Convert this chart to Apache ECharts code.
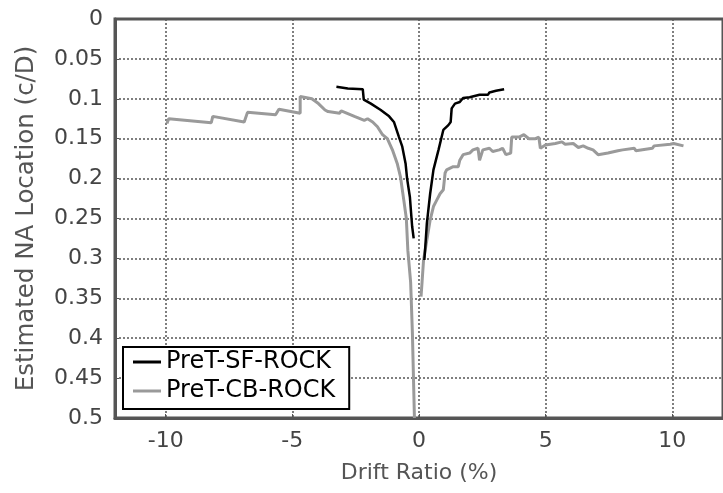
<!DOCTYPE html>
<html>
<head>
<meta charset="utf-8">
<script src="https://cdn.jsdelivr.net/npm/echarts@6/dist/echarts.min.js"></script>
<style>
  html, body { margin: 0; padding: 0; background: #fff; }
  #chart { width: 723px; height: 493px; }
</style>
</head>
<body>
<div id="chart"></div>
<script>
// drift ratio (%) vs estimated NA location (c/D)
var sfDrift = [-3.26, -2.81, -2.22, -2.18, -1.90, -1.51, -1.18, -0.99, -0.79, -0.66, -0.53, -0.47, -0.36, -0.31, -0.27, -0.21];
var sfDepth = [0.085, 0.087, 0.088, 0.101, 0.106, 0.114, 0.122, 0.129, 0.148, 0.160, 0.181, 0.200, 0.223, 0.244, 0.260, 0.275];
var sfDriftPos = [0.21, 0.25, 0.31, 0.44, 0.57, 0.77, 0.96, 1.16, 1.25, 1.29, 1.42, 1.61, 1.74, 2.00, 2.39, 2.72, 2.78, 3.04, 3.36];
var sfDepthPos = [0.302, 0.285, 0.256, 0.219, 0.189, 0.164, 0.139, 0.133, 0.129, 0.112, 0.106, 0.104, 0.099, 0.098, 0.095, 0.095, 0.092, 0.090, 0.088];

var cbDrift = [-9.95, -9.88, -8.20, -8.14, -6.90, -6.77, -5.66, -5.53, -4.69, -4.69, -4.23, -3.97, -3.71, -3.59, -3.13, -3.07, -2.55, -2.16, -2.03, -1.83, -1.64, -1.44, -1.25, -1.05, -0.86, -0.73, -0.60, -0.50, -0.44, -0.33, -0.26, -0.18];
var cbDepth = [0.131, 0.125, 0.130, 0.122, 0.129, 0.117, 0.120, 0.113, 0.118, 0.097, 0.100, 0.106, 0.114, 0.116, 0.118, 0.115, 0.122, 0.127, 0.125, 0.129, 0.135, 0.145, 0.150, 0.164, 0.181, 0.198, 0.227, 0.250, 0.290, 0.330, 0.394, 0.500];
var cbDriftPos = [0.08, 0.12, 0.18, 0.31, 0.44, 0.57, 0.70, 0.83, 0.96, 1.03, 1.09, 1.35, 1.55, 1.61, 1.74, 2.00, 2.13, 2.33, 2.39, 2.52, 2.78, 2.91, 3.17, 3.30, 3.43, 3.62, 3.66, 3.95, 4.14, 4.34, 4.60, 4.73, 4.79, 4.99, 5.38, 5.64, 5.77, 6.09, 6.29, 6.48, 6.68, 6.87, 7.07, 7.46, 7.85, 8.04, 8.50, 8.56, 9.21, 9.28, 9.92, 10.05, 10.44];
var cbDepthPos = [0.348, 0.330, 0.302, 0.277, 0.252, 0.235, 0.227, 0.219, 0.214, 0.193, 0.189, 0.185, 0.185, 0.177, 0.170, 0.168, 0.164, 0.162, 0.177, 0.164, 0.162, 0.166, 0.164, 0.162, 0.170, 0.168, 0.148, 0.148, 0.145, 0.150, 0.150, 0.148, 0.162, 0.158, 0.156, 0.154, 0.157, 0.156, 0.161, 0.159, 0.162, 0.164, 0.170, 0.168, 0.165, 0.164, 0.162, 0.165, 0.162, 0.159, 0.157, 0.156, 0.159];

var xTicks = [-10, -5, 0, 5, 10];
var seriesNames = ['PreT-SF-ROCK', 'PreT-CB-ROCK'];

var pairs = function(xs, ys) {
  var out = [];
  for (var i = 0; i < xs.length; i++) {
    out.push([xs[i], ys[i]]);
  }
  return out;
};

var chart = echarts.init(document.getElementById('chart'));
var font = 'DejaVu Sans';
var axisGray = '#555';

var lineSeries = function(name, data, color, width) {
  return {
    name: name,
    type: 'line',
    data: data,
    symbol: 'none',
    showSymbol: false,
    animation: false,
    lineStyle: { color: color, width: width },
    itemStyle: { color: color },
    z: name === seriesNames[0] ? 3 : 2
  };
};

var option = {
  animation: false,
  grid: {
    left: 115, top: 19, width: 616, height: 399,
    show: true, borderColor: axisGray, borderWidth: 3,
    containLabel: false
  },
  legend: {
    left: 123, top: 347,
    orient: 'vertical',
    data: seriesNames,
    icon: 'rect',
    backgroundColor: '#fff',
    borderColor: '#000',
    borderWidth: 2,
    borderRadius: 0,
    padding: [3, 14, 6, 10],
    itemGap: 5,
    itemWidth: 28,
    itemHeight: 3,
    textStyle: { fontFamily: font, fontSize: 24, color: '#000' }
  },
  xAxis: {
    type: 'value',
    min: -12, max: 12,
    name: 'Drift Ratio (%)',
    nameLocation: 'middle',
    nameGap: 44,
    nameTextStyle: { fontFamily: font, fontSize: 22, color: '#555' },
    axisLine: { onZero: false, lineStyle: { color: axisGray, width: 3 } },
    axisTick: { show: true, inside: true, length: 4, customValues: xTicks, lineStyle: { color: axisGray } },
    axisLabel: { customValues: xTicks, fontFamily: font, fontSize: 22, color: '#444', margin: 12 },
    splitLine: { show: true, lineStyle: { color: axisGray, type: [2, 2], width: 1.5 } }
  },
  yAxis: {
    type: 'value',
    inverse: true,
    min: 0, max: 0.5, interval: 0.05,
    name: 'Estimated NA Location (c/D)',
    nameLocation: 'middle',
    nameGap: 76,
    nameRotate: 90,
    nameTextStyle: { fontFamily: font, fontSize: 24.5, color: '#555' },
    axisLine: { onZero: false, lineStyle: { color: axisGray, width: 3 } },
    axisTick: { show: true, inside: true, length: 4, lineStyle: { color: axisGray } },
    axisLabel: { fontFamily: font, fontSize: 22, color: '#444', margin: 12 },
    splitLine: { show: true, lineStyle: { color: axisGray, type: [2, 2], width: 1.5 } }
  },
  series: [
    lineSeries(seriesNames[0], pairs(sfDrift, sfDepth), '#000', 2.5),
    lineSeries(seriesNames[1], pairs(cbDrift, cbDepth), '#9a9a9a', 3),
    lineSeries(seriesNames[0], pairs(sfDriftPos, sfDepthPos), '#000', 2.5),
    lineSeries(seriesNames[1], pairs(cbDriftPos, cbDepthPos), '#9a9a9a', 3)
  ]
};

chart.setOption(option);
</script>
</body>
</html>
